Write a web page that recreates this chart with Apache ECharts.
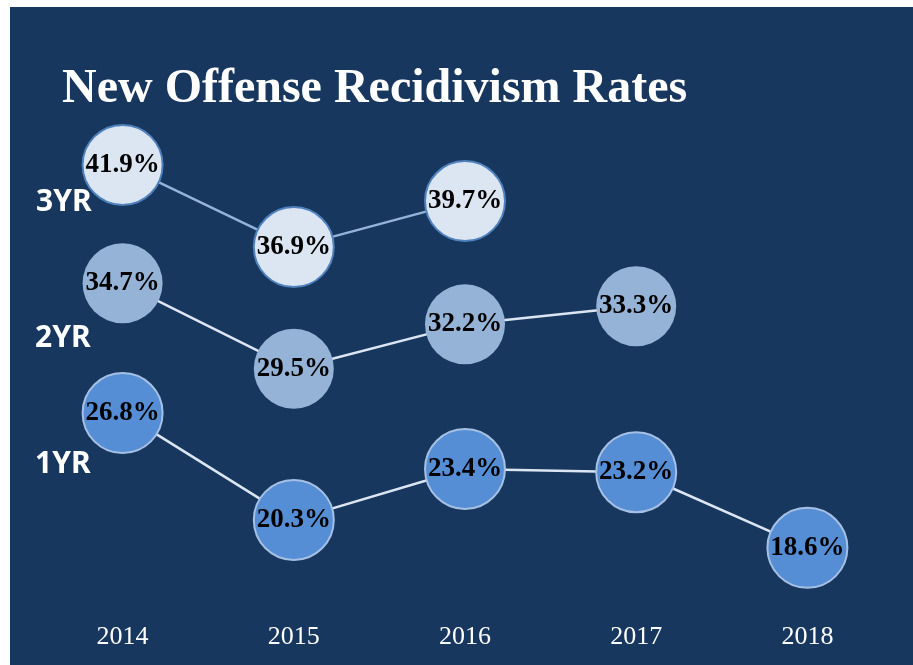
<!DOCTYPE html>
<html>
<head>
<meta charset="utf-8">
<script src="https://cdn.jsdelivr.net/npm/echarts@6/dist/echarts.min.js"></script>
<style>
  html, body { margin: 0; padding: 0; background: #fff; }
  #chart { position: absolute; left: 10px; top: 7px; width: 903px; height: 658px; }
</style>
</head>
<body>
<div id="chart"></div>
<script>
const years = ['2014', '2015', '2016', '2017', '2018']
const rate3yr = [41.9, 36.9, 39.7, null, null]
const rate2yr = [34.7, 29.5, 32.2, 33.3, null]
const rate1yr = [26.8, 20.3, 23.4, 23.2, 18.6]
const seriesNames = ['3YR', '2YR', '1YR']

let myChart = echarts.init(document.getElementById('chart'))

function makeSeries(name, data, fill, border, borderWidth, lineColor) {
  return {
    name: name,
    type: 'line',
    data: data,
    symbol: 'circle',
    symbolSize: 80,
    connectNulls: false,
    lineStyle: { color: lineColor, width: 2.5 },
    itemStyle: { color: fill, borderColor: border, borderWidth: borderWidth, opacity: 1 },
    label: {
      show: true,
      position: 'inside',
      formatter: p => p.value.toFixed(1) + '%',
      color: '#000',
      fontFamily: 'Liberation Serif',
      fontWeight: 'bold',
      fontSize: 27
    },
    emphasis: { disabled: true },
    z: 3
  }
}

myChart.setOption({
  backgroundColor: '#17375e',
  animation: false,
  title: {
    text: 'New Offense Recidivism Rates',
    left: 47,
    top: 54,
    textStyle: {
      color: '#fff',
      fontFamily: 'Liberation Serif',
      fontWeight: 'bold',
      fontSize: 48
    }
  },
  grid: { left: 27, right: 20, top: 107, bottom: 58 },
  xAxis: {
    type: 'category',
    data: years,
    boundaryGap: true,
    axisLine: { show: false },
    axisTick: { show: false },
    axisLabel: {
      color: '#fff',
      fontFamily: 'Liberation Serif',
      fontSize: 26,
      margin: 17
    }
  },
  yAxis: {
    type: 'value',
    min: 15,
    max: 45,
    show: false
  },
  graphic: [
    { type: 'text', left: 26, top: 180, style: { text: seriesNames[0], fill: '#fff', font: 'bold 30px "Noto Sans"' } },
    { type: 'text', left: 25, top: 316, style: { text: seriesNames[1], fill: '#fff', font: 'bold 30px "Noto Sans"' } },
    { type: 'text', left: 25, top: 442, style: { text: seriesNames[2], fill: '#fff', font: 'bold 30px "Noto Sans"' } }
  ],
  series: [
    makeSeries(seriesNames[0], rate3yr, '#dce6f2', '#4f81bd', 2, '#95b3d7'),
    makeSeries(seriesNames[1], rate2yr, '#95b3d7', '#95b3d7', 0, '#dce6f2'),
    makeSeries(seriesNames[2], rate1yr, '#558ed5', '#a6c0e4', 2, '#dce6f2')
  ]
})
</script>
</body>
</html>
